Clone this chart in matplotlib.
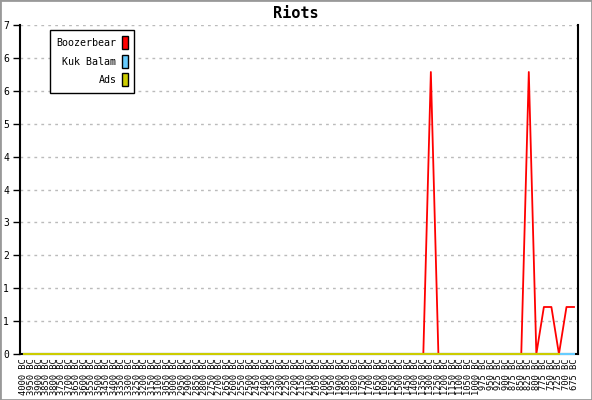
import matplotlib
matplotlib.use("Agg")
import matplotlib.pyplot as plt
import matplotlib.patches as mpatches
import numpy as np

# categories: 4000 BC .. 1000 BC by 50, then 975 BC .. 675 BC by 25
years = list(range(4000, 999, -50)) + list(range(975, 674, -25))
labels = ["%d BC" % y for y in years]

boozerbear = [0] * 53 + [0, 6, 0] + [0] * 11 + [6, 0, 1, 1, 0, 1, 1]
kuk_balam = [0] * 74
ads = [0] * 72 + [np.nan, np.nan]

ytick_vals = [0, 0.7, 1.4, 2.1, 2.8, 3.5, 4.2, 4.9, 5.6, 6.3, 7.0]
ytick_labels = ["0", "1", "1", "2", "3", "4", "4", "5", "6", "6", "7"]

font = "DejaVu Sans Mono"

fig = plt.figure(figsize=(5.92, 4.0), dpi=100)
fig.patches.append(mpatches.Rectangle((0, 0), 1, 1, transform=fig.transFigure,
                                      fill=False, edgecolor="#999999", lw=2))

ax = fig.add_axes([20 / 592, 46 / 400, 558 / 592, 329 / 400])
x = np.arange(len(years))

ax.plot(x, boozerbear, color="#ff0000", lw=1.3, zorder=3, clip_on=False)
ax.plot(x, kuk_balam, color="#66ccff", lw=1.5, zorder=4, clip_on=False)
ax.plot(x, ads, color="#cccc00", lw=1.5, zorder=5, clip_on=False)

ax.set_xlim(-0.53, len(years) - 1 + 0.53)
ax.set_ylim(0, 7)

ax.set_yticks(ytick_vals)
ax.set_yticklabels(ytick_labels, fontfamily=font, fontsize=7)
ax.tick_params(axis="y", length=5, width=1, pad=3)
ax.set_xticks(x)
ax.set_xticklabels(labels, rotation=90, fontfamily=font, fontsize=6.3)
ax.tick_params(axis="x", length=0, pad=3)

ax.grid(axis="y", color="#bbbbbb", linestyle=(0, (2, 3)), lw=1)
ax.set_axisbelow(True)
for s in ["left", "bottom", "right"]:
    ax.spines[s].set_color("black")
    ax.spines[s].set_linewidth(1.5)
ax.spines["top"].set_visible(False)

fig.text(0.5, 1 - 13 / 400, "Riots", ha="center", va="center",
         fontfamily=font, fontweight="bold", fontsize=11)

handles = [mpatches.Rectangle((0, 0), 1, 1, facecolor=c, edgecolor="black", lw=1)
           for c in ["#ff0000", "#66ccff", "#cccc00"]]
leg = ax.legend(handles, ["Boozerbear", "Kuk Balam", "Ads"],
                loc="upper left", bbox_to_anchor=(30 / 558, 1 - 5 / 329),
                borderaxespad=0, markerfirst=False,
                prop={"family": font, "size": 7.2},
                handlelength=0.6, handleheight=1.6, handletextpad=0.5,
                labelspacing=0.55, borderpad=0.65, fancybox=False,
                framealpha=1, edgecolor="black")
leg.get_frame().set_linewidth(1)
for t in leg.get_texts():
    t.set_ha("right")
leg._legend_box.align = "right"

fig.savefig("out.png", dpi=100)
